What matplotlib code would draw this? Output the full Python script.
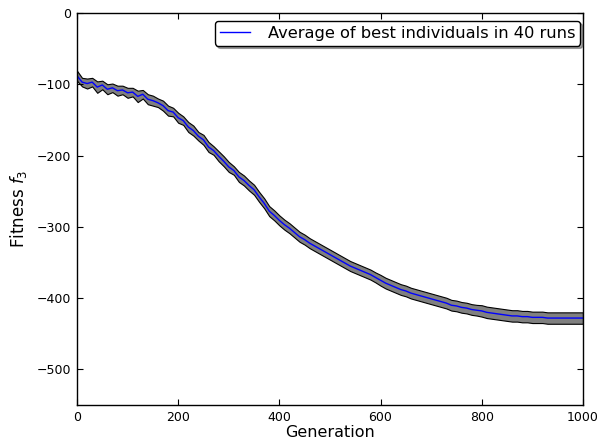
import numpy as np
import matplotlib
matplotlib.use('Agg')
import matplotlib.pyplot as plt

# generations sampled every 10
generations = list(range(0, 1001, 10))

# average fitness of best individuals
mean_fitness = [
    -88, -97, -99, -97, -104, -101, -107, -105, -109, -108,
    -112, -111, -117, -114, -121, -123, -126, -130, -137, -139,
    -147, -151, -160, -165, -173, -178, -188, -193, -201, -208,
    -216, -221, -230, -235, -242, -248, -258, -267, -278, -284,
    -291, -297, -302, -308, -314, -318, -323, -327, -331, -335,
    -339, -343, -347, -351, -355, -358, -361, -364, -367, -371,
    -375, -379, -382, -385, -388, -390, -393, -395, -397, -399,
    -401, -403, -405, -407, -410, -411, -413, -414, -416, -417,
    -418, -420, -421, -422, -423, -424, -425, -425, -426, -426,
    -427, -427, -427, -428, -428, -428, -428, -428, -428, -428,
    -428,
]

# spread (std) around the average
spread = [
    7, 6, 7, 6, 8, 6, 7, 6, 7, 6,
    7, 6, 8, 6, 7, 7, 6, 7, 7, 6,
    7, 6, 7, 7, 6, 7, 7, 6, 7, 7,
    7, 6, 7, 7, 7, 7, 7, 7, 7, 7,
    7, 7, 7, 7, 7, 7, 7, 7, 7, 7,
    7, 7, 7, 7, 7, 7, 7, 7, 7, 7,
    7.5, 7.5, 7.5, 7.5, 7.5, 7.5, 7.5, 7.5, 7.5, 7.5,
    7.5, 7.5, 7.5, 7.5, 7.5, 7.5, 7.5, 7.5, 7.5, 7.5,
    8, 8, 8, 8, 8, 8, 8, 8, 8, 8,
    8, 8, 8, 8, 8, 8, 8, 8, 8, 8,
    8,
]

gen = np.array(generations)
avg = np.array(mean_fitness, dtype=float)
sd = np.array(spread, dtype=float)

fig = plt.figure(figsize=(6.03, 4.40), dpi=100, facecolor='white')
ax = fig.add_axes([0.1277, 0.0795, 0.839, 0.891])

ax.fill_between(gen, avg - sd, avg + sd, facecolor='gray', edgecolor='black', linewidth=0.8)
ax.plot(gen, avg, color='blue', linewidth=1.0, label='Average of best individuals in 40 runs')

ax.set_xlim(0, 1000)
ax.set_ylim(-550, 0)
ax.set_xticks(range(0, 1001, 200))
ax.set_yticks(range(-500, 1, 100))
ax.tick_params(direction='in', top=True, right=True, labelsize=9, length=4, pad=4)
for s in ax.spines.values():
    s.set_linewidth(1.0)

ax.set_xlabel('Generation', fontsize=11.5, labelpad=1)
ax.set_ylabel('Fitness $f_3$', fontsize=12, labelpad=6)

leg = ax.legend(loc='upper right', bbox_to_anchor=(0.994, 0.98), borderaxespad=0,
                fontsize=11.7, fancybox=True, shadow=True, handlelength=1.85,
                handletextpad=1.1, borderpad=0.3, framealpha=1.0)
leg.get_frame().set_edgecolor('black')

fig.savefig('out.png', dpi=100, facecolor='white')
